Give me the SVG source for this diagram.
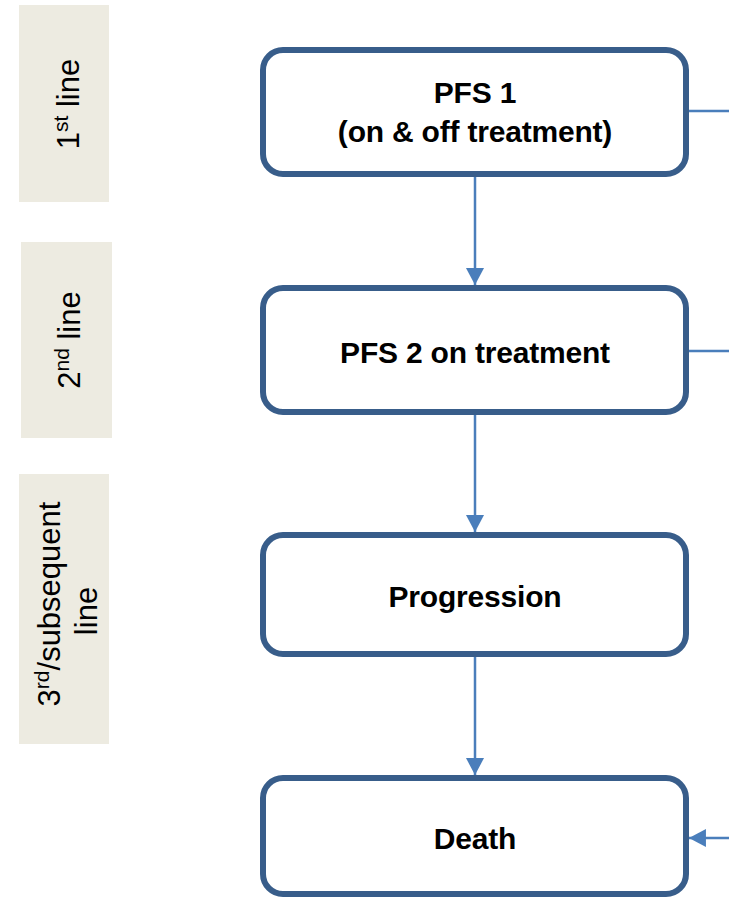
<svg xmlns="http://www.w3.org/2000/svg" width="729" height="897" viewBox="0 0 729 897">
<style>
.lbl{fill:#EDEBE1}
.lt{font-family:"Liberation Sans",Arial,sans-serif;font-size:31px;fill:#000;text-anchor:middle}
.box{fill:#fff;stroke:#385D8A;stroke-width:6}
.nt{font-family:"Liberation Sans",Arial,sans-serif;font-size:30px;font-weight:bold;fill:#000;text-anchor:middle;letter-spacing:-0.2px}
.con{stroke:#4A7EBB;stroke-width:2.5;fill:none}
.sup{font-size:21px}
</style>
<defs>
<marker id="ah" markerUnits="userSpaceOnUse" markerWidth="18" markerHeight="18" viewBox="0 0 16 17" refX="16" refY="8.5" orient="auto">
<path d="M0,0 L16,8.5 L0,17 z" fill="#4A7EBB"/>
</marker>
</defs>
<g id="label1">
<rect class="lbl" x="19" y="5" width="90" height="197"/>
<text class="lt" transform="translate(79,104) rotate(-90)">1<tspan class="sup" dy="-11">st</tspan><tspan dy="11"> line</tspan></text>
</g>
<g id="label2">
<rect class="lbl" x="21" y="242" width="91" height="196"/>
<text class="lt" transform="translate(80,340) rotate(-90)">2<tspan class="sup" dy="-11">nd</tspan><tspan dy="11"> line</tspan></text>
</g>
<g id="label3">
<rect class="lbl" x="19" y="474" width="90" height="270"/>
<text class="lt" transform="translate(60,604) rotate(-90)">3<tspan class="sup" dy="-11">rd</tspan><tspan dy="11">/subsequent</tspan></text>
<text class="lt" transform="translate(97,611) rotate(-90)">line</text>
</g>
<g id="connectors">
<line class="con" x1="475" y1="177" x2="475" y2="285" marker-end="url(#ah)"/>
<line class="con" x1="475" y1="415" x2="475" y2="532" marker-end="url(#ah)"/>
<line class="con" x1="475" y1="657" x2="475" y2="775" marker-end="url(#ah)"/>
<line class="con" x1="689" y1="111" x2="729" y2="111"/>
<line class="con" x1="689" y1="351" x2="729" y2="351"/>
<line class="con" x1="729" y1="838" x2="689" y2="838" marker-end="url(#ah)"/>
</g>
<g id="pfs1">
<rect class="box" x="263" y="50" width="423" height="124" rx="20"/>
<text class="nt" x="475" y="103">PFS 1</text>
<text class="nt" x="475" y="142">(on &amp; off treatment)</text>
</g>
<g id="pfs2">
<rect class="box" x="263" y="288" width="423" height="124" rx="20"/>
<text class="nt" x="475" y="363">PFS 2 on treatment</text>
</g>
<g id="progression">
<rect class="box" x="263" y="535" width="423" height="119" rx="20"/>
<text class="nt" x="475" y="607">Progression</text>
</g>
<g id="death">
<rect class="box" x="263" y="778" width="423" height="116" rx="20"/>
<text class="nt" x="475" y="849">Death</text>
</g>
</svg>
